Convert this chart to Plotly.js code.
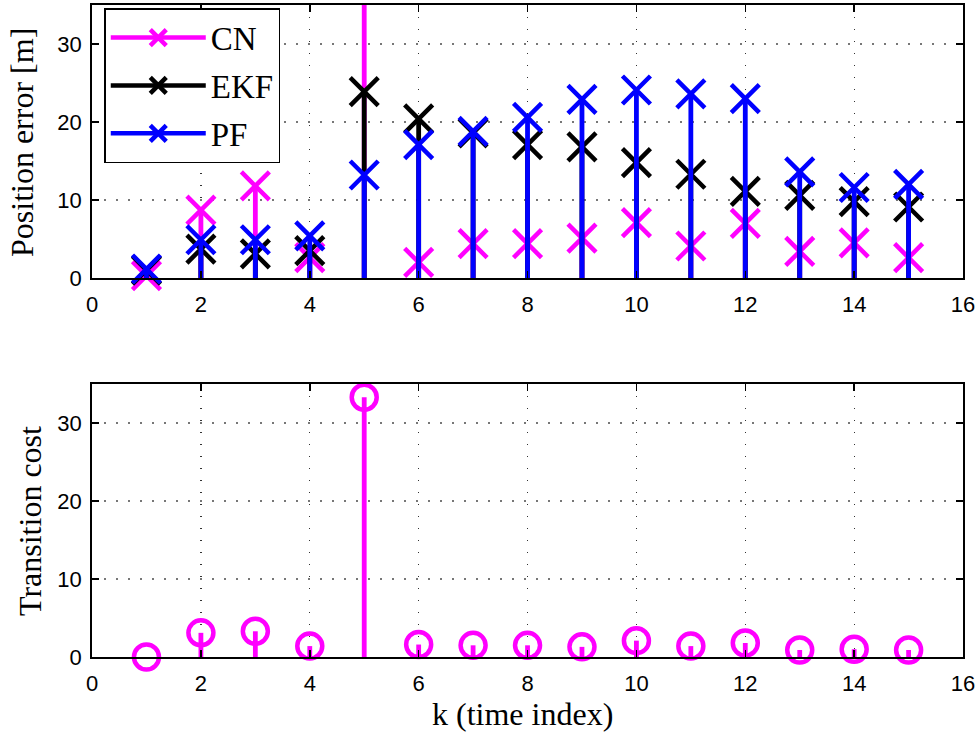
<!DOCTYPE html>
<html><head><meta charset="utf-8">
<script src="https://cdn.plot.ly/plotly-3.0.1.min.js"></script>
<style>body{margin:0;background:#fff}#c{width:979px;height:735px}</style>
</head><body><div id="c"></div>
<script>
const k = [1,2,3,4,5,6,7,8,9,10,11,12,13,14,15];
const cnErr  = [0.3,8.7,11.8,2.6,40,2.0,4.4,4.4,5.1,7.1,4.1,7.0,3.4,4.5,2.6];
const ekfErr = [1.0,3.7,3.1,3.5,23.9,20.4,18.6,17.1,16.8,14.8,13.3,11.1,10.6,9.8,9.1];
const pfErr  = [1.15,4.9,4.9,5.4,13.2,17.1,18.8,20.6,22.9,24.1,23.6,23.0,13.6,11.6,12.0];
const transCost = [0,3.1,3.3,1.4,33.3,1.6,1.5,1.5,1.3,2.1,1.4,1.8,0.9,1.0,0.9];
const seriesNames = ['CN','EKF','PF'];
const xTicks = [0,2,4,6,8,10,12,14,16];
const yTicks = [0,10,20,30];

function stemXY(xs, ys){
  const X=[],Y=[];
  xs.forEach((x,i)=>{X.push(x,x,null);Y.push(0,ys[i],null);});
  return {X,Y};
}
const colors = {CN:'#ff00ff',EKF:'#000000',PF:'#0000ff'};
const traces = [];
[[seriesNames[0],cnErr],[seriesNames[1],ekfErr],[seriesNames[2],pfErr]].forEach(([name,vals])=>{
  const s = stemXY(k, vals);
  traces.push({x:s.X,y:s.Y,mode:'lines',line:{color:colors[name],width:4.8},
    xaxis:'x',yaxis:'y',showlegend:false,hoverinfo:'skip'});
  traces.push({x:k,y:vals,mode:'markers',name:name,cliponaxis:false,
    marker:{symbol:'x-thin',size:28,color:colors[name],line:{color:colors[name],width:4.5}},
    xaxis:'x',yaxis:'y',showlegend:false});
  traces.push({x:[null],y:[null],mode:'lines+markers',name:name,legendgroup:name,
    line:{color:colors[name],width:4.5},
    marker:{symbol:'x-thin',size:28,color:colors[name],line:{color:colors[name],width:4.5}},
    xaxis:'x',yaxis:'y',showlegend:true});
});
const ts = stemXY(k, transCost);
traces.push({x:ts.X,y:ts.Y,mode:'lines',line:{color:'#ff00ff',width:4.8},
  xaxis:'x2',yaxis:'y2',showlegend:false,hoverinfo:'skip'});
traces.push({x:k,y:transCost,mode:'markers',name:'Transition cost',cliponaxis:false,
  marker:{symbol:'circle-open',size:25,color:'#ff00ff',line:{color:'#ff00ff',width:4.5}},
  xaxis:'x2',yaxis:'y2',showlegend:false});

const tickFont = {family:'Liberation Sans, Arial, sans-serif',size:22,color:'#000'};
const serif = 'Liberation Serif, Times New Roman, serif';
function xax(anchor){return {domain:[0.094,0.9837],range:[0,16],tickvals:xTicks,ticktext:xTicks.map(String),
  ticks:'inside',ticklen:7,tickwidth:1.5,tickcolor:'#000',showline:true,linewidth:2,linecolor:'#000',mirror:'ticks',
  showgrid:true,gridcolor:'#333',gridwidth:1.2,griddash:'1.5px,10.5px',zeroline:false,tickfont:tickFont,
  ticklabelstandoff:6,anchor:anchor,fixedrange:true};}
function yax(dom,anchor){return {domain:dom,range:[0,35],tickvals:yTicks,ticktext:yTicks.map(String),
  ticks:'inside',ticklen:7,tickwidth:1.5,tickcolor:'#000',showline:true,linewidth:2,linecolor:'#000',mirror:'ticks',
  showgrid:true,gridcolor:'#777',gridwidth:1.2,griddash:'1.5px,10.5px',zeroline:false,tickfont:tickFont,
  ticklabelstandoff:4,anchor:anchor,fixedrange:true};}

const layout = {
  width:979,height:735,margin:{l:0,r:0,t:0,b:0},paper_bgcolor:'#fff',plot_bgcolor:'#fff',
  xaxis:xax('y'),yaxis:yax([0.6218,0.9932],'x'),
  xaxis2:xax('y2'),yaxis2:yax([0.1061,0.4776],'x2'),
  showlegend:true,
  legend:{x:0.1065,y:0.989,xanchor:'left',yanchor:'top',bgcolor:'#fff',bordercolor:'#000',borderwidth:1.5,
    font:{family:serif,size:33,color:'#000'},itemwidth:95,tracegroupgap:2,traceorder:'grouped',
    entrywidth:188,entrywidthmode:'pixels'},
  annotations:[
    {text:'Position error [m]',xref:'paper',yref:'paper',x:22/979,y:1-143/735,textangle:-90,showarrow:false,
      font:{family:serif,size:32,color:'#000'},xanchor:'center',yanchor:'middle'},
    {text:'Transition cost',xref:'paper',yref:'paper',x:30/979,y:1-521/735,textangle:-90,showarrow:false,
      font:{family:serif,size:32,color:'#000'},xanchor:'center',yanchor:'middle'},
    {text:'k (time index)',xref:'paper',yref:'paper',x:522/979,y:1-714/735,showarrow:false,
      font:{family:serif,size:32,color:'#000'},xanchor:'center',yanchor:'middle'}
  ]
};
Plotly.newPlot('c',traces,layout,{staticPlot:true});
</script></body></html>
